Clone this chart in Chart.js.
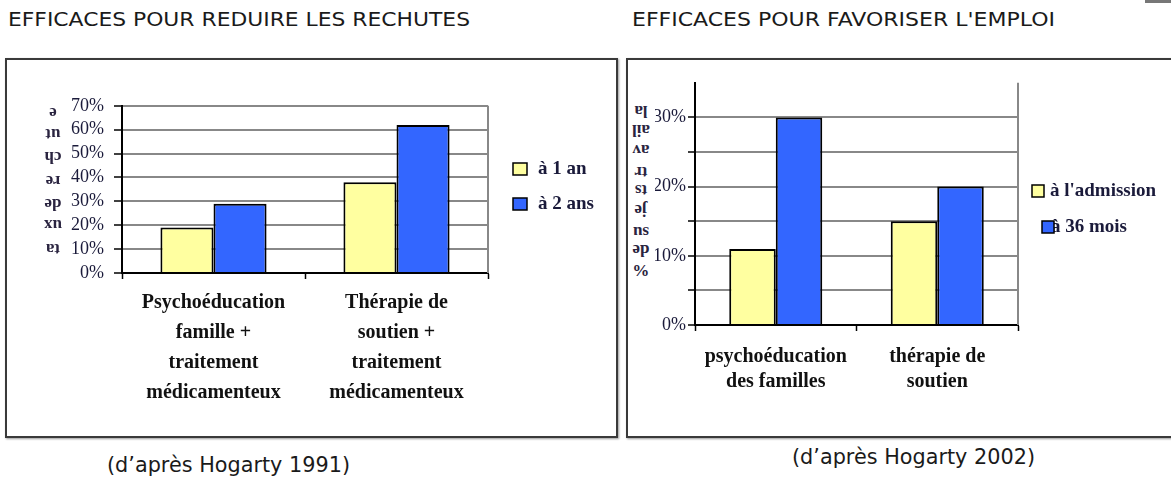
<!DOCTYPE html>
<html><head><meta charset="utf-8">
<script src="https://cdn.jsdelivr.net/npm/chart.js@4"></script>
<style>
html,body{margin:0;padding:0;background:#fff;}
body{width:1171px;height:483px;position:relative;overflow:hidden;}
.abs{position:absolute;}
.title{font-family:"DejaVu Sans",sans-serif;font-size:20px;color:#1a1a1a;white-space:nowrap;transform-origin:0 50%;}
.cap{font-family:"DejaVu Sans",sans-serif;font-size:21px;color:#1a1a1a;white-space:nowrap;transform-origin:0 50%;}
.box{border:2px solid #3a3a3a;box-shadow:1px 1px 2px #999;}
.chunk{font-family:"Liberation Serif",serif;font-weight:bold;font-size:17px;color:#2a2440;transform:translate(-50%,-50%) rotate(180deg);white-space:nowrap;line-height:1;}
</style></head>
<body>
<div class="abs box" style="left:5px;top:58px;width:609px;height:376px;"></div>
<div class="abs box" style="left:626px;top:58px;width:600px;height:376px;"></div>
<div class="abs" style="left:1145px;top:0;width:30px;height:3px;background:#777;"></div>

<div id="t1" class="abs title" style="left:8px;top:7px;">EFFICACES POUR REDUIRE LES RECHUTES</div>
<div id="t2" class="abs title" style="left:632px;top:7px;">EFFICACES POUR FAVORISER L'EMPLOI</div>
<div id="c1" class="abs cap" style="left:107px;top:453px;">(d’après Hogarty 1991)</div>
<div id="c2" class="abs cap" style="left:792px;top:445px;">(d’après Hogarty 2002)</div>

<div class="abs" style="left:60px;top:85px;width:550px;height:330px;"><canvas id="ch1" width="550" height="330"></canvas></div>
<div class="abs" style="left:655px;top:70px;width:516px;height:350px;"><canvas id="ch2" width="516" height="350"></canvas></div>

<script>
// ---- data ----
const categories1 = [["Psychoéducation","famille +","traitement","médicamenteux"],["Thérapie de","soutien +","traitement","médicamenteux"]];
const series1a = [19, 38];   // à 1 an
const series1b = [29, 62];   // à 2 ans
const seriesNames1 = ["à 1 an","à 2 ans"];
const yTitle1 = ["ta","ux","de","re","ch","ut","e"];

const categories2 = [["psychoéducation","des familles"],["thérapie de","soutien"]];
const series2a = [11, 15];   // à l'admission
const series2b = [30, 20];   // à 36 mois
const seriesNames2 = ["à l'admission","à 36 mois"];
const yTitle2 = ["%","de","su","je","ts","tr","av","ail","la"];

const YELLOW = "#FFFFA0", BLUE = "#3366FF";

function fit(id, w){const e=document.getElementById(id);const r=e.getBoundingClientRect().width;e.style.transform='scaleX('+(w/r)+')';}
fit('t1',462); fit('t2',423); fit('c1',243); fit('c2',243);

function chunks(list, x, ys){
  list.forEach((t,i)=>{const d=document.createElement('div');d.className='abs chunk';d.textContent=t;d.style.left=x+'px';d.style.top=ys[i]+'px';document.body.appendChild(d);});
}
chunks(yTitle1, 53, [249,225,204,181,157,134,113]);
chunks(yTitle2, 641, [270,250,232,210,190,172,150,130,111]);

Chart.defaults.font.family = "Liberation Serif";
Chart.defaults.color = "#1a1a3a";

const frame = {
  id:'frame',
  beforeDatasetsDraw(chart){
    const c=chart.ctx,a=chart.chartArea;
    c.save();c.strokeStyle='#888';c.lineWidth=2;
    c.beginPath();c.moveTo(a.right,a.top);c.lineTo(a.right,a.bottom);c.stroke();c.restore();
  },
  afterDraw(chart, args, opts){
    const c=chart.ctx;
    c.save();
    c.font='bold 19px "Liberation Serif"';c.textBaseline='middle';
    opts.items.forEach((it,i)=>{
      const ds=chart.data.datasets[i];
      c.fillStyle='#1a1a3a';c.fillText(ds.label,it.tx,it.ty);
      c.fillStyle=ds.backgroundColor;c.fillRect(it.bx,it.by,it.bw,it.bh);
      c.strokeStyle='#000';c.lineWidth=1.5;c.strokeRect(it.bx,it.by,it.bw,it.bh);
    });
    c.restore();
  }
};

function makeChart(id, cats, a, b, names, cfg){
  const hide = c => c.tick && cfg.hideTop && c.tick.value===cfg.max;
  return new Chart(document.getElementById(id), {
    type:'bar',
    data:{labels:cats, datasets:[
      {label:names[0], data:a, backgroundColor:YELLOW, borderColor:'#000', borderWidth:2, borderSkipped:'bottom'},
      {label:names[1], data:b, backgroundColor:BLUE, borderColor:'#000', borderWidth:2, borderSkipped:'bottom'}
    ]},
    plugins:[frame],
    options:{
      responsive:false, animation:false,
      layout:{padding:cfg.padding},
      plugins:{legend:{display:false}, tooltip:{enabled:false}, frame:{items:cfg.legend}},
      datasets:{bar:{categoryPercentage:cfg.catPct, barPercentage:1}},
      scales:{
        x:{
          afterFit(s){s.height=cfg.xh;},
          grid:{display:true, drawOnChartArea:false, offset:true, tickLength:6, tickColor:'#000', tickWidth:1.5},
          border:{color:'#000', width:2},
          ticks:{maxRotation:0, minRotation:0, autoSkip:false, padding:cfg.xpad, color:'#111',
                 font:{size:20, weight:'bold', lineHeight:cfg.xlh}}
        },
        y:{
          min:0, max:cfg.max,
          afterFit(s){s.width=cfg.yw;},
          grid:{color:c=>hide(c)?'rgba(0,0,0,0)':'#888', lineWidth:2,
                tickLength:cfg.tl, tickColor:c=>hide(c)?'rgba(0,0,0,0)':'#000', tickWidth:1.5},
          border:{color:'#000', width:2},
          ticks:{stepSize:cfg.step, autoSkip:false, padding:cfg.ypad, color:'#1a1a3a', font:{size:18},
                 callback:v=> (v % cfg.labelEvery===0 && !(cfg.hideTop && v===cfg.max)) ? v+'%' : ''}
        }
      }
    }
  });
}

makeChart('ch1', categories1, series1a, series1b, seriesNames1, {
  padding:{top:14,right:122,left:0,bottom:0}, xh:142, yw:62, catPct:0.58,
  xpad:9, xlh:1.5, max:70, step:10, labelEvery:10, tl:8, ypad:10, hideTop:false,
  legend:[{bx:453,by:78,bw:14,bh:12,tx:478,ty:84},{bx:453,by:113,bw:14,bh:12,tx:478,ty:119}]
});
makeChart('ch2', categories2, series2a, series2b, seriesNames2, {
  padding:{top:12,right:153,left:0,bottom:0}, xh:95, yw:40, catPct:0.576,
  xpad:13, xlh:1.25, max:35, step:5, labelEvery:10, tl:7, ypad:2, hideTop:true,
  legend:[{bx:377,by:115,bw:12,bh:12,tx:395,ty:121},{bx:387,by:151,bw:12,bh:12,tx:396,ty:157}]
});
</script>
</body></html>
